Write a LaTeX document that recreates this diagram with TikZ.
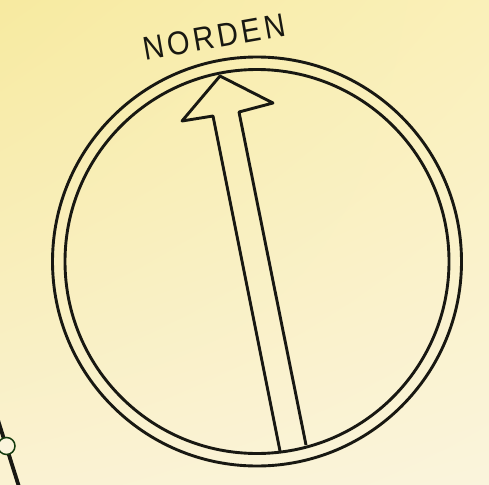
\documentclass[tikz,border=0pt]{standalone}
\usepackage{fontspec}
\setmainfont{Liberation Sans}
\usetikzlibrary{shadings}
\definecolor{inkc}{RGB}{24,24,18}
\definecolor{bgA}{RGB}{247,234,160}
\definecolor{bgB}{RGB}{250,240,185}
\definecolor{bgC}{RGB}{250,242,210}
\definecolor{bgD}{RGB}{250,244,220}
\begin{document}
\begin{tikzpicture}[x=1pt,y=-1pt,
  ink/.style={draw=inkc, line width=2.9pt},
  lbl/.style={text=inkc, inner sep=0pt, font=\fontsize{33}{33}\selectfont}]
\useasboundingbox (0,0) rectangle (489,484);
\shade[upper left=bgA, upper right=bgB, lower left=bgC, lower right=bgD] (0,0) rectangle (489,484);
% compass rings
\coordinate (c) at (257,261.5);
\draw[ink] (c) circle[radius=204.5];
\draw[ink] (c) circle[radius=192];
% arrow
\coordinate (bl) at (280,451);
\coordinate (ln) at (213,116);
\coordinate (lb) at (182,121);
\coordinate (tip) at (220,76);
\coordinate (rb) at (273,103);
\coordinate (rn) at (239,112);
\coordinate (br) at (306,445);
\draw[ink, line join=round] (bl) -- (ln) -- (lb) -- (tip) -- (rb) -- (rn) -- (br);
% label
\node[lbl, rotate=10, xscale=0.88] (label) at (214.5,37) {N\kern4pt O\kern4pt R\kern4pt D\kern4pt E\kern4pt N};
% fragment at bottom left
\coordinate (s1) at (-3,417);
\coordinate (s2) at (20,490);
\draw[draw=inkc, line width=3.8pt] (s1) -- (s2);
\draw[draw=inkc!85!green, line width=1.5pt, fill=bgD] (6.5,446) circle[radius=8.5];
\end{tikzpicture}
\end{document}
